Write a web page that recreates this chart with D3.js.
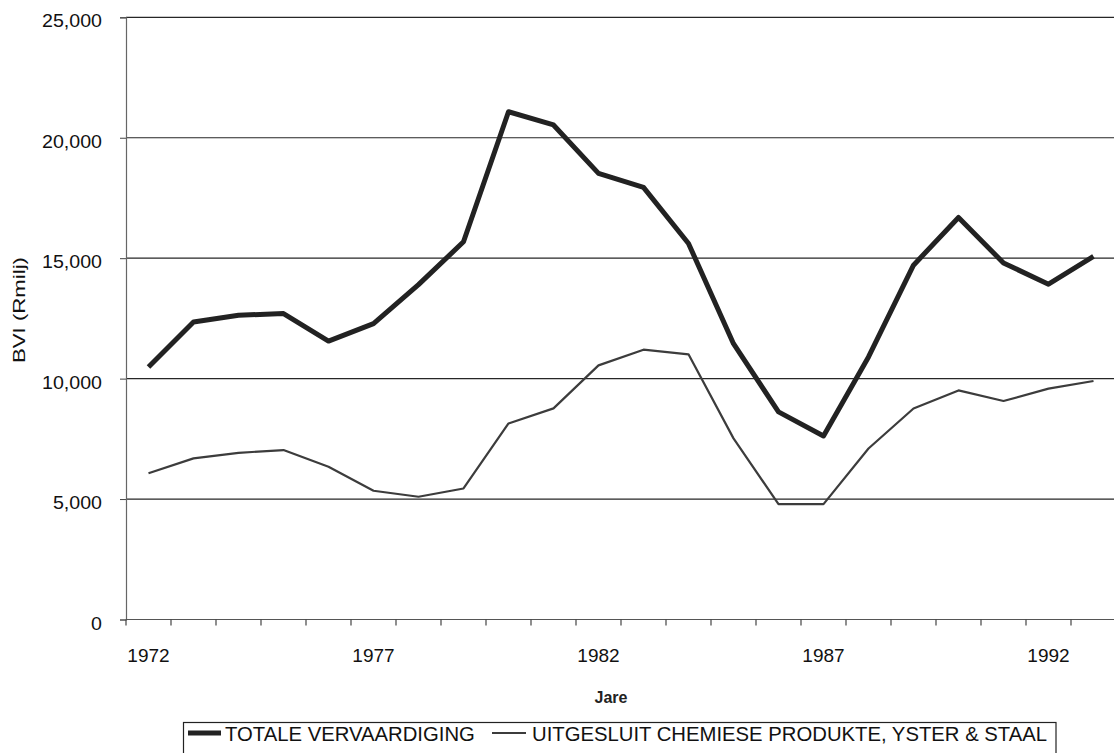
<!DOCTYPE html>
<html>
<head>
<meta charset="utf-8">
<script src="https://cdn.jsdelivr.net/npm/d3@7"></script>
<style>
  html, body { margin: 0; padding: 0; background: #fff; }
  svg { display: block; font-family: "Liberation Sans", Arial, sans-serif; }
</style>
</head>
<body>
<svg id="chart" width="1114" height="753"></svg>
<script>
// Manufacturing output (BVI, R million), 1972–1993
const years = [1972, 1973, 1974, 1975, 1976, 1977, 1978, 1979, 1980, 1981, 1982,
               1983, 1984, 1985, 1986, 1987, 1988, 1989, 1990, 1991, 1992, 1993];
const totaleVervaardiging = [10480, 12350, 12630, 12700, 11560, 12280, 13900, 15680, 21080, 20530, 18520,
                             17940, 15610, 11450, 8620, 7620, 10900, 14710, 16690, 14800, 13920, 15080];
const uitgesluitChemiese = [6070, 6690, 6920, 7035, 6340, 5345, 5095, 5440, 8140, 8765, 10550,
                            11200, 11010, 7520, 4790, 4790, 7100, 8760, 9510, 9070, 9585, 9900];
const yTicks = [0, 5000, 10000, 15000, 20000, 25000];
const xLabelYears = [1972, 1977, 1982, 1987, 1992];
const seriesNames = ["TOTALE VERVAARDIGING", "UITGESLUIT CHEMIESE PRODUKTE, YSTER & STAAL"];

const svg = d3.select("#chart");
const plotLeft = 126, plotRight = 1116, plotTop = 17.3, plotBottom = 619.5;

const x = d3.scaleBand().domain(years).range([plotLeft, plotRight]).padding(0);
const y = d3.scaleLinear().domain([0, 25000]).range([plotBottom, plotTop]);
const fmt = d3.format(",");

// widen a text node horizontally by a factor, keeping its anchor
function stretch(sel, k) {
  sel.each(function () {
    const w = this.getComputedTextLength();
    this.setAttribute("textLength", w * k);
    this.setAttribute("lengthAdjust", "spacingAndGlyphs");
  });
}

// horizontal gridlines
svg.append("g")
  .selectAll("line")
  .data(yTicks.filter(d => d > 0))
  .join("line")
  .attr("x1", plotLeft).attr("x2", plotRight)
  .attr("y1", d => y(d)).attr("y2", d => y(d))
  .attr("stroke", "#262626").attr("stroke-width", 1.2);

// y axis
const yAxis = svg.append("g")
  .attr("transform", `translate(${plotLeft},0)`)
  .call(d3.axisLeft(y).tickValues(yTicks).tickFormat(fmt).tickSize(6).tickPadding(18));
yAxis.select(".domain").attr("stroke", "#666").attr("stroke-width", 1.2);
yAxis.selectAll(".tick line").attr("stroke", "#444");
yAxis.selectAll(".tick text")
  .attr("font-size", 17.5).attr("fill", "#111")
  .attr("dy", "0.55em")
  .call(stretch, 1.12);

// x axis: ticks on category boundaries, labels every fifth year
const xAxisG = svg.append("g").attr("transform", `translate(0,${plotBottom})`);
xAxisG.append("line")
  .attr("x1", plotLeft).attr("x2", plotRight)
  .attr("stroke", "#555").attr("stroke-width", 1.2);
xAxisG.selectAll("line.tk")
  .data(years.concat([null]))
  .join("line")
  .attr("class", "tk")
  .attr("x1", (d, i) => plotLeft + i * x.bandwidth())
  .attr("x2", (d, i) => plotLeft + i * x.bandwidth())
  .attr("y1", 0).attr("y2", 6)
  .attr("stroke", "#444").attr("stroke-width", 1.2);
xAxisG.selectAll("text")
  .data(xLabelYears)
  .join("text")
  .attr("x", d => x(d) + x.bandwidth() / 2)
  .attr("y", 42)
  .attr("text-anchor", "middle")
  .attr("font-size", 19).attr("fill", "#111")
  .text(d => d);

// axis titles
svg.append("text")
  .attr("x", 611).attr("y", 703)
  .attr("text-anchor", "middle")
  .attr("font-size", 16).attr("font-weight", "bold").attr("fill", "#222")
  .text("Jare");
svg.append("text")
  .attr("transform", "translate(25,310) rotate(-90)")
  .attr("text-anchor", "middle")
  .attr("font-size", 16.5).attr("fill", "#111")
  .attr("textLength", 106).attr("lengthAdjust", "spacingAndGlyphs")
  .text("BVI (Rmilj)");

// lines
const line = d3.line()
  .x((d, i) => x(years[i]) + x.bandwidth() / 2)
  .y(d => y(d));

svg.append("path")
  .datum(uitgesluitChemiese)
  .attr("d", line)
  .attr("fill", "none")
  .attr("stroke", "#3c3c3c").attr("stroke-width", 2.2)
  .attr("stroke-linejoin", "round");

svg.append("path")
  .datum(totaleVervaardiging)
  .attr("d", line)
  .attr("fill", "none")
  .attr("stroke", "#222").attr("stroke-width", 5)
  .attr("stroke-linejoin", "round");

// legend
const lg = svg.append("g");
lg.append("rect")
  .attr("x", 183.5).attr("y", 722.5).attr("width", 872.5).attr("height", 40)
  .attr("fill", "#fff").attr("stroke", "#222").attr("stroke-width", 1.2);
lg.append("line")
  .attr("x1", 188).attr("x2", 221).attr("y1", 733).attr("y2", 733)
  .attr("stroke", "#222").attr("stroke-width", 5);
lg.append("text")
  .attr("x", 225).attr("y", 741)
  .attr("font-size", 20.3).attr("fill", "#111")
  .text(seriesNames[0]);
lg.append("line")
  .attr("x1", 492).attr("x2", 526).attr("y1", 733).attr("y2", 733)
  .attr("stroke", "#3c3c3c").attr("stroke-width", 2.2);
lg.append("text")
  .attr("x", 532).attr("y", 741)
  .attr("font-size", 20.3).attr("fill", "#111")
  .text(seriesNames[1]);
</script>
</body>
</html>
